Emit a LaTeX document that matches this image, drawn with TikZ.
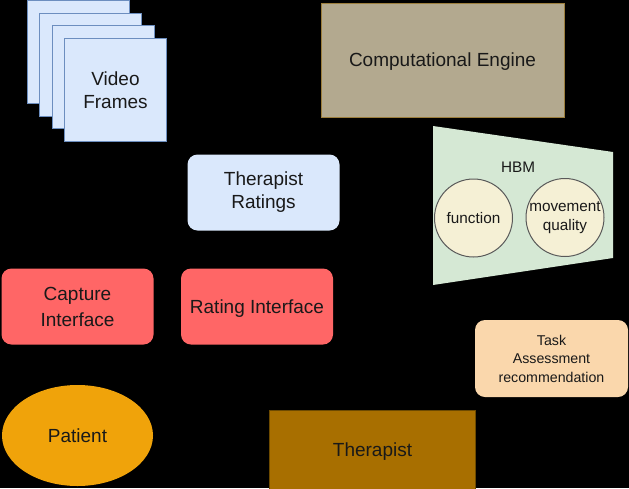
\documentclass[tikz,border=0pt]{standalone}
\usepackage{fontspec}
\setmainfont{Liberation Sans}
\usepackage{tikz}
\usetikzlibrary{positioning}
\usetikzlibrary{shapes.geometric,calc}

\definecolor{frameblue}{HTML}{DAE8FC}
\definecolor{frameline}{HTML}{6C8EBF}
\definecolor{enginefill}{HTML}{B3A98F}
\definecolor{engineline}{HTML}{9C7E3C}
\definecolor{hbmgreen}{HTML}{D5E8D4}
\definecolor{circfill}{HTML}{F5F0D5}
\definecolor{taskfill}{HTML}{FAD7AC}
\definecolor{redfill}{HTML}{FF6666}
\definecolor{patientfill}{HTML}{F0A30A}
\definecolor{therapistfill}{HTML}{A86F00}
\definecolor{therapistline}{HTML}{6D4A00}

\begin{document}
\begin{tikzpicture}[x=1pt, y=-1pt, line width=1pt]

\tikzstyle{big} = [font=\fontsize{19}{23}\selectfont, text=black!90, align=center, inner sep=0pt]
\tikzstyle{small} = [font=\fontsize{15.3}{18.5}\selectfont, text=black!90, align=center, inner sep=0pt]
\tikzstyle{videoframe} = [rectangle, minimum width=102pt, minimum height=103pt, fill=frameblue, draw=frameline, big]
\tikzstyle{roundbox} = [rectangle, rounded corners=10pt, minimum width=152pt, minimum height=76pt, big]
\tikzstyle{hbmcirc} = [circle, minimum size=78pt, fill=circfill, draw=black!65, small]

\fill[black] (0,0) rectangle (629,488);
\useasboundingbox (0,0) rectangle (629,488);

% stack of video frames
\foreach \i in {1,2,3}
  \node (frame\i) [videoframe, anchor=north west] at ({14+12.5*\i}, {-13+12.8*\i}) {};
\node (frame4) [videoframe, anchor=north west] at (64, 38.2) {Video\\Frames};

\node (engine) [rectangle, minimum width=243pt, minimum height=114pt, fill=enginefill, draw=engineline, big, text depth=0pt] at (442.5, 60) {Computational Engine};

% HBM trapezoid with the two circles
\fill[hbmgreen] (433,126) -- (613,152) -- (613,258) -- (433,285) -- cycle;
\node (hbm) [small] at (518, 167) {HBM};
\node (function) [hbmcirc] at (473.5, 218) {function};
\node (quality) [hbmcirc] at (565, 217.5) {movement\\quality};

\node (ratings) [roundbox, fill=frameblue] at (263.5, 192.5) {Therapist\\Ratings};
\node (capture) [roundbox, fill=redfill] at (77.5, 306.5) {Capture\\[3pt]Interface};
\node (rating) [roundbox, fill=redfill, text depth=0pt] at (257, 306.5) {Rating Interface};
\node (task) [roundbox, fill=taskfill, small, font=\fontsize{14.2}{18.5}\selectfont, minimum width=153pt, minimum height=77pt] at (551.5, 358.5) {Task\\Assessment\\recommendation};

\node (patient) [ellipse, minimum width=151pt, minimum height=101pt, fill=patientfill, big] at (77.5, 435.5) {Patient};
\node (therapist) [rectangle, minimum width=206pt, minimum height=80pt, fill=therapistfill, draw=therapistline, big, text depth=0pt] at (372.5, 450) {Therapist};
\end{tikzpicture}
\end{document}
